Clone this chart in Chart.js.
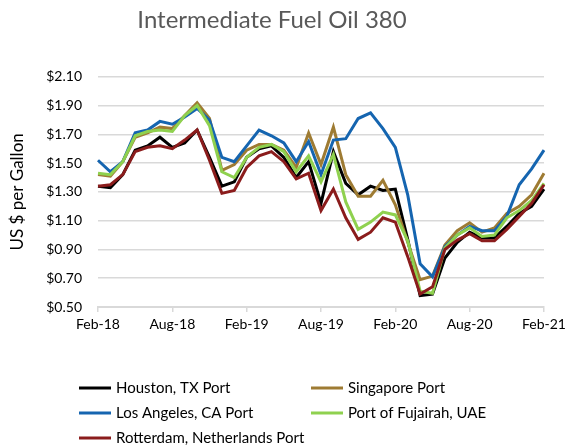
<!DOCTYPE html>
<html>
<head>
<meta charset="utf-8">
<script src="https://cdn.jsdelivr.net/npm/chart.js@4.4.1/dist/chart.umd.min.js"></script>
<style>
  html, body { margin: 0; padding: 0; background: #fff; }
  #wrap { width: 565px; height: 447px; }
</style>
</head>
<body>
<div id="wrap"><canvas id="fuelChart" width="565" height="447"></canvas></div>
<script>
// Prix mensuels (US $ par gallon)
const months = [
  'Feb-18', 'Mar-18', 'Apr-18', 'May-18', 'Jun-18', 'Jul-18', 'Aug-18', 'Sep-18', 'Oct-18', 'Nov-18', 'Dec-18', 'Jan-19',
  'Feb-19', 'Mar-19', 'Apr-19', 'May-19', 'Jun-19', 'Jul-19', 'Aug-19', 'Sep-19', 'Oct-19', 'Nov-19', 'Dec-19', 'Jan-20',
  'Feb-20', 'Mar-20', 'Apr-20', 'May-20', 'Jun-20', 'Jul-20', 'Aug-20', 'Sep-20', 'Oct-20', 'Nov-20', 'Dec-20', 'Jan-21',
  'Feb-21'
];

const houston = [1.34, 1.33, 1.42, 1.59, 1.62, 1.68, 1.61, 1.64, 1.73, 1.54, 1.34, 1.37,
  1.54, 1.60, 1.62, 1.54, 1.40, 1.51, 1.22, 1.58, 1.36, 1.28, 1.34, 1.31,
  1.32, 0.97, 0.58, 0.59, 0.84, 0.95, 1.02, 0.98, 0.98, 1.06, 1.15, 1.20, 1.32];

const singapore = [1.42, 1.41, 1.51, 1.68, 1.71, 1.75, 1.74, 1.83, 1.92, 1.81, 1.45, 1.49,
  1.59, 1.63, 1.63, 1.59, 1.47, 1.71, 1.49, 1.75, 1.42, 1.27, 1.27, 1.38,
  1.21, 0.95, 0.69, 0.715, 0.93, 1.03, 1.085, 1.02, 1.05, 1.15, 1.20, 1.28, 1.43];

const losAngeles = [1.52, 1.44, 1.51, 1.71, 1.73, 1.79, 1.77, 1.82, 1.88, 1.80, 1.54, 1.51,
  1.62, 1.73, 1.69, 1.64, 1.51, 1.65, 1.42, 1.66, 1.67, 1.81, 1.85, 1.74,
  1.61, 1.28, 0.80, 0.71, 0.92, 1.00, 1.06, 1.03, 1.03, 1.13, 1.35, 1.46, 1.59];

const fujairah = [1.43, 1.42, 1.51, 1.69, 1.72, 1.73, 1.72, 1.83, 1.90, 1.76, 1.44, 1.40,
  1.54, 1.61, 1.63, 1.58, 1.44, 1.55, 1.37, 1.56, 1.23, 1.04, 1.09, 1.16,
  1.14, 0.96, 0.61, 0.595, 0.91, 1.00, 1.05, 0.99, 1.00, 1.12, 1.17, 1.24, 1.36];

const rotterdam = [1.34, 1.35, 1.42, 1.58, 1.61, 1.62, 1.60, 1.66, 1.73, 1.52, 1.29, 1.31,
  1.47, 1.55, 1.58, 1.51, 1.39, 1.43, 1.17, 1.32, 1.12, 0.97, 1.02, 1.12,
  1.09, 0.85, 0.59, 0.64, 0.90, 0.965, 1.01, 0.96, 0.96, 1.04, 1.13, 1.22, 1.35];

const seriesNames = ['Houston, TX Port', 'Singapore Port', 'Los Angeles, CA Port', 'Port of Fujairah, UAE', 'Rotterdam, Netherlands Port'];
const seriesColors = ['#000000', '#9E7B33', '#1565B0', '#8FD14F', '#8B1C1C'];
const seriesData = [houston, singapore, losAngeles, fujairah, rotterdam];

const FONT = 'Lato, "Open Sans", sans-serif';

// Légende sur deux colonnes, dessinée à la main
const gridLegend = {
  id: 'gridLegend',
  afterDraw(chart) {
    const ctx = chart.ctx;
    const cols = [79, 311];
    const rows = [388, 413, 438];
    ctx.save();
    ctx.font = '15px ' + FONT;
    ctx.textBaseline = 'middle';
    ctx.textAlign = 'left';
    chart.data.datasets.forEach((ds, i) => {
      const x = cols[i % 2];
      const y = rows[Math.floor(i / 2)];
      ctx.strokeStyle = ds.borderColor;
      ctx.lineWidth = 3;
      ctx.beginPath();
      ctx.moveTo(x, y);
      ctx.lineTo(x + 32, y);
      ctx.stroke();
      ctx.fillStyle = '#000';
      ctx.fillText(ds.label, x + 37, y);
    });
    ctx.restore();
  }
};

const ctx = document.getElementById('fuelChart').getContext('2d');

new Chart(ctx, {
  type: 'line',
  data: {
    labels: months,
    datasets: seriesData.map((d, i) => ({
      label: seriesNames[i],
      data: d,
      borderColor: seriesColors[i],
      backgroundColor: seriesColors[i],
      borderWidth: 3,
      pointRadius: 0,
      tension: 0,
      fill: false,
      order: seriesData.length - i
    }))
  },
  options: {
    responsive: false,
    animation: false,
    layout: { padding: { left: 0, right: 21, top: 0, bottom: 110 } },
    plugins: {
      legend: { display: false },
      tooltip: { enabled: false },
      title: {
        display: true,
        text: 'Intermediate Fuel Oil 380',
        color: '#595959',
        font: { family: FONT, size: 24, weight: 'normal' },
        padding: { top: 6, bottom: 42 }
      }
    },
    scales: {
      x: {
        offset: false,
        grid: {
          drawOnChartArea: false,
          drawTicks: true,
          tickLength: 5,
          lineWidth: 1.5,
          color: (c) => (c.index % 6 === 0 ? '#d9d9d9' : 'rgba(0,0,0,0)')
        },
        border: { display: true, color: '#d9d9d9', width: 2 },
        ticks: {
          autoSkip: false,
          maxRotation: 0,
          padding: 4,
          color: '#000',
          font: { family: FONT, size: 14 },
          callback: function (val, idx) { return idx % 6 === 0 ? months[idx] : ''; }
        },
        afterFit: (scale) => {
          scale.height = 30;
          scale.paddingRight = 0; // le dernier libellé peut déborder jusqu'au bord
        }
      },
      y: {
        min: 0.5,
        max: 2.1,
        grid: { color: '#d9d9d9', lineWidth: 1.5, drawTicks: false },
        border: { display: false },
        ticks: {
          stepSize: 0.2,
          padding: 16,
          color: '#000',
          font: { family: FONT, size: 14 },
          callback: (v) => '$' + Number(v).toFixed(2)
        },
        title: {
          display: true,
          text: 'US $ per Gallon',
          color: '#000',
          font: { family: FONT, size: 17 },
          padding: { top: 7, bottom: 0 }
        },
        afterFit: (scale) => { scale.width = 98; }
      }
    }
  },
  plugins: [gridLegend]
});
</script>
</body>
</html>
